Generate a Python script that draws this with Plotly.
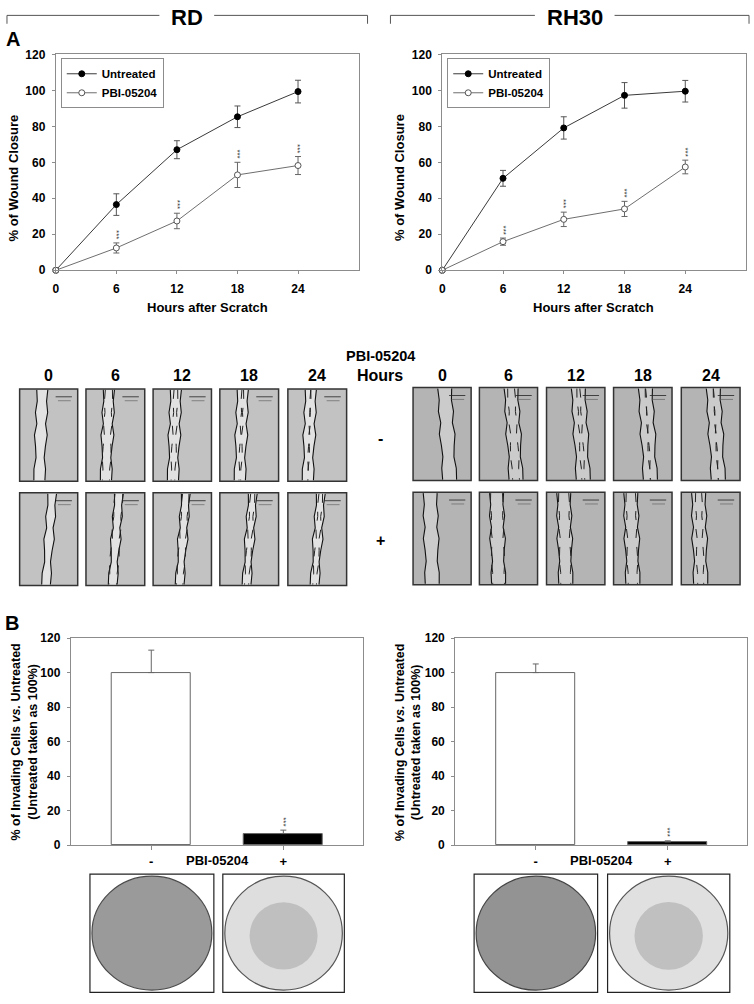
import plotly.graph_objects as go

# ---- data ----
hours = [0, 6, 12, 18, 24]

rd_untreated = [0, 36.5, 67, 85.3, 99.3]
rd_untreated_err = [0, 6, 5, 6, 6.3]
rd_pbi = [0, 12.4, 27.4, 53, 58.2]
rd_pbi_err = [0, 2.8, 4.3, 7, 5]

rh_untreated = [0, 51.1, 79.1, 97.2, 99.5]
rh_untreated_err = [0, 4.4, 6.2, 7.1, 6]
rh_pbi = [0, 15.9, 28.3, 34.1, 57.4]
rh_pbi_err = [0, 2, 4, 4.2, 3.8]

bar_labels = ["-", "+"]
rd_invasion = [100, 6.7]
rd_invasion_err = [13, 2]
rh_invasion = [100, 1.9]
rh_invasion_err = [5, 0.6]

W, H = 754, 1004
FONT = "Liberation Sans, Arial, sans-serif"
AXIS_GRAY = "#8c8c8c"


def px(x):
    return x / W


def py(y):
    return 1 - y / H


fig = go.Figure()


def line_panel(n, untreated, u_err, pbi, p_err, legend):
    xa, ya = f"x{n}", f"y{n}"
    fig.add_trace(go.Scatter(
        x=hours, y=untreated, name="Untreated", mode="lines+markers",
        xaxis=xa, yaxis=ya, legend=legend, cliponaxis=False,
        line=dict(color="#3a3a3a", width=1),
        marker=dict(color="black", size=6, line=dict(color="black", width=1)),
        error_y=dict(type="data", array=u_err, color="#555", thickness=1, width=3),
    ))
    fig.add_trace(go.Scatter(
        x=hours, y=pbi, name="PBI-05204", mode="lines+markers",
        xaxis=xa, yaxis=ya, legend=legend, cliponaxis=False,
        line=dict(color="#6e6e6e", width=1),
        marker=dict(color="white", size=6, line=dict(color="#555", width=1)),
        error_y=dict(type="data", array=p_err, color="#666", thickness=1, width=3),
    ))
    # significance marks above treated points
    for h, v, e in zip(hours[1:], pbi[1:], p_err[1:]):
        fig.add_annotation(x=h, y=v + e + 4.7, xref=xa, yref=ya, text="***",
                           textangle=90, showarrow=False,
                           xanchor="center", yanchor="middle",
                           font=dict(size=8, color="#333"))


def bar_panel(n, values, errs):
    xa, ya = f"x{n}", f"y{n}"
    fig.add_trace(go.Bar(
        x=[0, 1], y=values, xaxis=xa, yaxis=ya, width=0.594, showlegend=False,
        marker=dict(color=["white", "black"], line=dict(color="#666", width=1)),
        error_y=dict(type="data", array=errs, arrayminus=[0, 0],
                     color="#666", thickness=1, width=3),
    ))
    fig.add_annotation(x=1, y=values[1] + errs[1] + 5, xref=xa, yref=ya,
                       text="***", textangle=90, showarrow=False,
                       xanchor="center", yanchor="middle",
                       font=dict(size=8, color="#333"))


line_panel(1, rd_untreated, rd_untreated_err, rd_pbi, rd_pbi_err, "legend")
line_panel(2, rh_untreated, rh_untreated_err, rh_pbi, rh_pbi_err, "legend2")
bar_panel(3, rd_invasion, rd_invasion_err)
bar_panel(4, rh_invasion, rh_invasion_err)

tickfont = dict(size=12, color="black", weight="bold")
common_axis = dict(showline=True, linecolor=AXIS_GRAY, linewidth=1, mirror=True,
                   showgrid=False, zeroline=False, ticks="outside", ticklen=3,
                   tickcolor=AXIS_GRAY, tickfont=tickfont)

line_x = dict(range=[0, 30], tickvals=hours, ticklabelstandoff=4, **common_axis)
line_y = dict(range=[0, 120], tickvals=[0, 20, 40, 60, 80, 100, 120],
              ticklabelstandoff=4, **common_axis)
bar_x = dict(range=[-0.61, 1.6], tickvals=[0, 1], ticktext=bar_labels,
             **{**common_axis, "tickfont": dict(size=13, color="black", weight="bold"),
                "ticklen": 4})

fig.update_layout(
    width=W, height=H, margin=dict(l=0, r=0, t=0, b=0),
    paper_bgcolor="white", plot_bgcolor="white",
    font=dict(family=FONT, color="black"),
    xaxis=dict(domain=[px(53), px(357)], anchor="y", **line_x),
    yaxis=dict(domain=[py(267), py(48)], anchor="x", **line_y),
    xaxis2=dict(domain=[px(441), px(746)], anchor="y2", **line_x),
    yaxis2=dict(domain=[py(267), py(48)], anchor="x2", **line_y),
    xaxis3=dict(domain=[px(68), px(361)], anchor="y3", **bar_x),
    yaxis3=dict(domain=[py(850), py(640)], anchor="x3", **line_y),
    xaxis4=dict(domain=[px(454), px(747)], anchor="y4", **bar_x),
    yaxis4=dict(domain=[py(850), py(640)], anchor="x4", **line_y),
    legend=dict(x=px(58), y=py(52), xanchor="left", yanchor="top",
                bordercolor=AXIS_GRAY, borderwidth=1, bgcolor="white",
                font=dict(size=11.5, weight="bold"), tracegroupgap=0,
                itemwidth=30),
    legend2=dict(x=px(446), y=py(52), xanchor="left", yanchor="top",
                 bordercolor=AXIS_GRAY, borderwidth=1, bgcolor="white",
                 font=dict(size=11.5, weight="bold"), tracegroupgap=0,
                 itemwidth=30),
    bargap=0,
)


def text(x, y, s, size, angle=0, **kw):
    fig.add_annotation(x=px(x), y=py(y), xref="paper", yref="paper", text=s,
                       showarrow=False, textangle=angle,
                       xanchor="center", yanchor="middle",
                       font=dict(size=size, weight="bold", color="black"), **kw)


def seg(x0, y0, x1, y1, color="black", width=1, dash="solid"):
    fig.add_shape(type="line", xref="paper", yref="paper",
                  x0=px(x0), y0=py(y0), x1=px(x1), y1=py(y1),
                  line=dict(color=color, width=width, dash=dash))


# headers with brackets
text(184.5, 11, "RD", 22)
text(574, 11, "RH30", 22)
for a, b, c, d in [(4, 157, 212, 366), (389, 534, 614, 749)]:
    seg(a, 8.5, b, 8.5, "#555")
    seg(c, 8.5, d, 8.5, "#555")
    seg(a, 8.5, a, 17, "#555")
    seg(d, 8.5, d, 17, "#555")
text(10, 32, "A", 20)
text(9, 625, "B", 20)

# axis titles
text(205, 305, "Hours after Scratch", 13)
text(593, 305, "Hours after Scratch", 13)
text(11, 173, "% of Wound Closure", 13, angle=-90)
text(398, 173, "% of Wound Closure", 13, angle=-90)
text(21, 745, "% of Invading Cells <i>vs.</i> Untreated<br>(Untreated taken as 100%)",
     12.5, angle=-90)
text(406, 746, "% of Invading Cells <i>vs.</i> Untreated<br>(Untreated taken as 100%)",
     12.5, angle=-90)
text(215, 866, "PBI-05204", 13)
text(601, 866, "PBI-05204", 13)

# ---- scratch-assay micrograph panels (schematic) ----
rd_cols = [(16.7, 75), (83.3, 142.3), (150.7, 209.3), (217.7, 276.7), (286, 345)]
rd_rows = [(387.3, 481), (492.7, 586.7)]
rh_cols = [(411.7, 470), (478.3, 536.7), (545.7, 604.3), (613, 671.7), (681, 740)]
rh_rows = [(386, 480.3), (492, 586)]
wiggle = [0, 0.015, -0.01, 0.02, -0.015, 0.01, 0.025, -0.005, 0]


def wound_panel(x0, x1, y0, y1, ctop, cbot, width, closure, bg, stripe):
    w = x1 - x0
    fig.add_shape(type="rect", xref="paper", yref="paper",
                  x0=px(x0), x1=px(x1), y0=py(y1), y1=py(y0),
                  fillcolor=bg, line=dict(color="#333", width=1.5))
    n = len(wiggle)

    def edge(offset, k):
        pts = []
        for i, wg in enumerate(wiggle):
            t = i / (n - 1)
            c = ctop + (cbot - ctop) * t
            xx = x0 + w * (c + offset + wg * k)
            yy = y0 + 1 + (y1 - y0 - 2) * t
            pts.append((px(xx), py(yy)))
        return pts

    left = edge(-width / 2, 1)
    right = edge(width / 2, -1)
    poly = left + right[::-1]
    path = "M " + " L ".join(f"{a:.5f},{b:.5f}" for a, b in poly) + " Z"
    fig.add_shape(type="path", xref="paper", yref="paper", path=path,
                  fillcolor=stripe, line=dict(width=0))
    for e in (left, right):
        p = "M " + " L ".join(f"{a:.5f},{b:.5f}" for a, b in e)
        fig.add_shape(type="path", xref="paper", yref="paper", path=p,
                      line=dict(color="#111", width=1.1))
    if closure > 0:
        gap = width * (1 - closure / 100)
        for off, k in ((-gap / 2, -1), (gap / 2, 1)):
            e = edge(off, k * 0.6)
            p = "M " + " L ".join(f"{a:.5f},{b:.5f}" for a, b in e)
            fig.add_shape(type="path", xref="paper", yref="paper", path=p,
                          line=dict(color="#222", width=1, dash="dash"))
    # scale bar
    seg(x0 + w * 0.62, y0 + 8, x0 + w * 0.9, y0 + 8, "#222", 0.8)
    seg(x0 + w * 0.66, y0 + 12, x0 + w * 0.88, y0 + 12, "#555", 0.6)


groups = [
    (rd_cols, rd_rows, [rd_untreated, rd_pbi],
     [(0.39, 0.34, 0.19), (0.56, 0.455, 0.15)], "#c2c2c2", "#e2e2e2"),
    (rh_cols, rh_rows, [rh_untreated, rh_pbi],
     [(0.545, 0.63, 0.24), (0.295, 0.33, 0.24)], "#b4b4b4", "#cbcbcb"),
]
for cols, rows, series, geo, bg, stripe in groups:
    for r, (ya, yb) in enumerate(rows):
        for c, (xa, xb) in enumerate(cols):
            ct, cb, wd = geo[r]
            wound_panel(xa, xb, ya, yb, ct, cb, wd, series[r][c], bg, stripe)
    for c, (xa, xb) in enumerate(cols):
        text((xa + xb) / 2, 374, str(hours[c]), 16)

text(379, 354, "PBI-05204", 14.5)
text(379, 374, "Hours", 16)
text(379, 438, "-", 16)
text(379, 541, "+", 16)

# ---- transwell invasion images (schematic) ----
wells = [
    ((87.3, 211.7), "#9a9a9a", "#4a4a4a"),
    ((220.7, 342.7), "#dedede", "#555"),
    ((473, 597), "#939393", "#444"),
    ((607, 729.7), "#e0e0e0", "#555"),
]
for (xa, xb), fill, rim in wells:
    fig.add_shape(type="rect", xref="paper", yref="paper",
                  x0=px(xa), x1=px(xb), y0=py(999.3), y1=py(879.3),
                  line=dict(color="#222", width=1.2), fillcolor="white")
    fig.add_shape(type="circle", xref="paper", yref="paper",
                  x0=px(xa + 2), x1=px(xb - 2), y0=py(997), y1=py(881.5),
                  line=dict(color=rim, width=1.2), fillcolor=fill)
    if fill.startswith("#d") or fill.startswith("#e"):
        cx, r = (xa + xb) / 2, (xb - xa) * 0.28
        fig.add_shape(type="circle", xref="paper", yref="paper",
                      x0=px(cx - r), x1=px(cx + r), y0=py(942 + r), y1=py(942 - r),
                      line=dict(width=0), fillcolor="#b2b2b2", opacity=0.7)

# drop the default 8px page margin so the figure sits at the window origin
fig.write_html("out.html", config={"displayModeBar": False},
               post_script="document.body.style.margin='0';")
